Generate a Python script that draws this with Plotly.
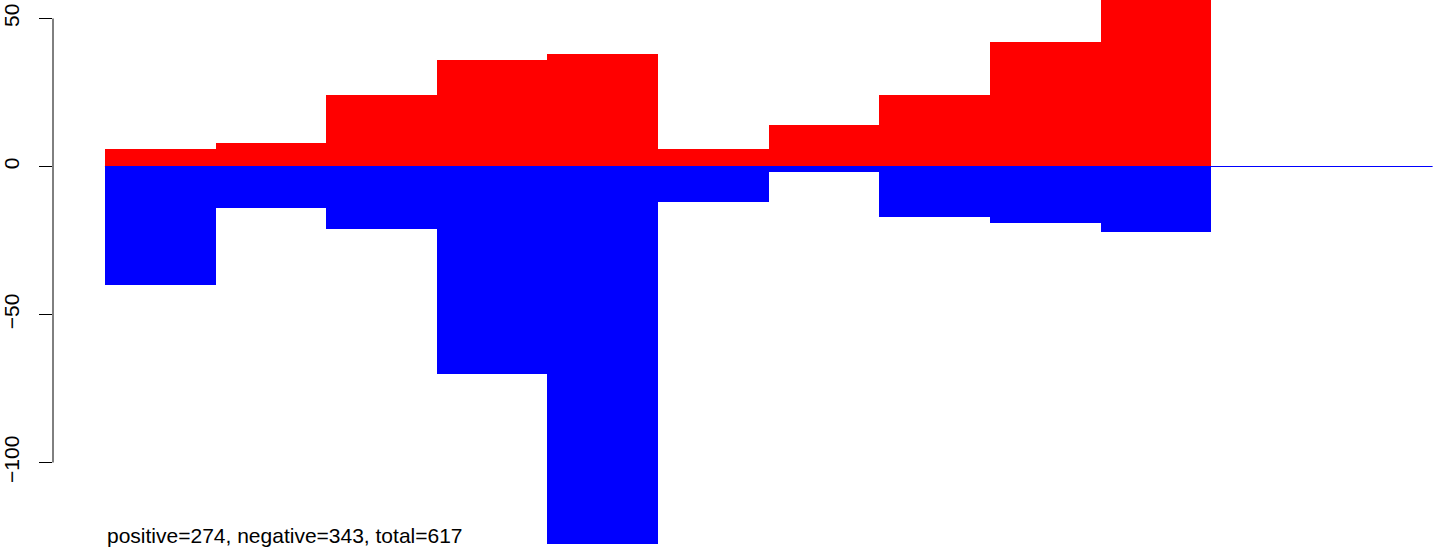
import plotly.graph_objects as go

# Data
bins = list(range(10))
positive = [6, 8, 24, 36, 38, 6, 14, 24, 42, 76]
negative = [-40, -14, -21, -70, -128, -12, -2, -17, -19, -22]
tick_vals = [50, 0, -50, -100]
tick_text = ["50", "0", "\u221250", "\u2212100"]
summary = "positive=274, negative=343, total=617"
baseline_x = [0, 12]
baseline_y = [0, 0]

centers = [b + 0.5 for b in bins]

fig = go.Figure()
fig.add_trace(go.Bar(x=centers, y=positive, width=1, marker=dict(color="#FF0000", line=dict(width=0)),
                     showlegend=False, hoverinfo="y"))
fig.add_trace(go.Bar(x=centers, y=negative, width=1, marker=dict(color="#0000FF", line=dict(width=0)),
                     showlegend=False, hoverinfo="y"))
fig.add_trace(go.Scatter(x=baseline_x, y=baseline_y, mode="lines", line=dict(color="#0000FF", width=1),
                         showlegend=False, hoverinfo="skip"))

W, H = 1444, 555
ml, mr, mt, mb = 51, 0, 0, 11
px_per_bar = 110.8
x0 = -(103 - ml) / px_per_bar
x1 = x0 + (W - ml - mr) / px_per_bar
px_per_unit = 2.96
y_top = 166.5 / px_per_unit
y_bot = -(H - mb - 166.5) / px_per_unit

fig.update_layout(
    width=W, height=H,
    margin=dict(l=ml, r=mr, t=mt, b=mb),
    paper_bgcolor="white", plot_bgcolor="white",
    barmode="relative", bargap=0,
    font=dict(family="Liberation Sans, Arial, Helvetica, sans-serif", size=21, color="black"),
    xaxis=dict(range=[x0, x1], visible=False, showgrid=False, zeroline=False),
    yaxis=dict(range=[y_bot, y_top], showgrid=False, zeroline=False, showline=False,
               tickmode="array", tickvals=tick_vals, ticktext=tick_text,
               ticks="outside", ticklen=13, tickwidth=1, tickcolor="black",
               tickangle=-90, ticklabelstandoff=12,
               tickfont=dict(size=21, color="black")),
    shapes=[dict(type="line", xref="paper", yref="y", x0=0, x1=0, y0=-100, y1=50,
                 line=dict(color="black", width=1))],
    annotations=[dict(text=summary, xref="x", x=0, xanchor="left",
                      yref="paper", y=(H - mb - 535.5) / (H - mt - mb), yanchor="middle",
                      showarrow=False, font=dict(size=21, color="black"))],
)

fig.write_html("out.html", config={"displayModeBar": False},
               post_script="document.body.style.margin='0';")
